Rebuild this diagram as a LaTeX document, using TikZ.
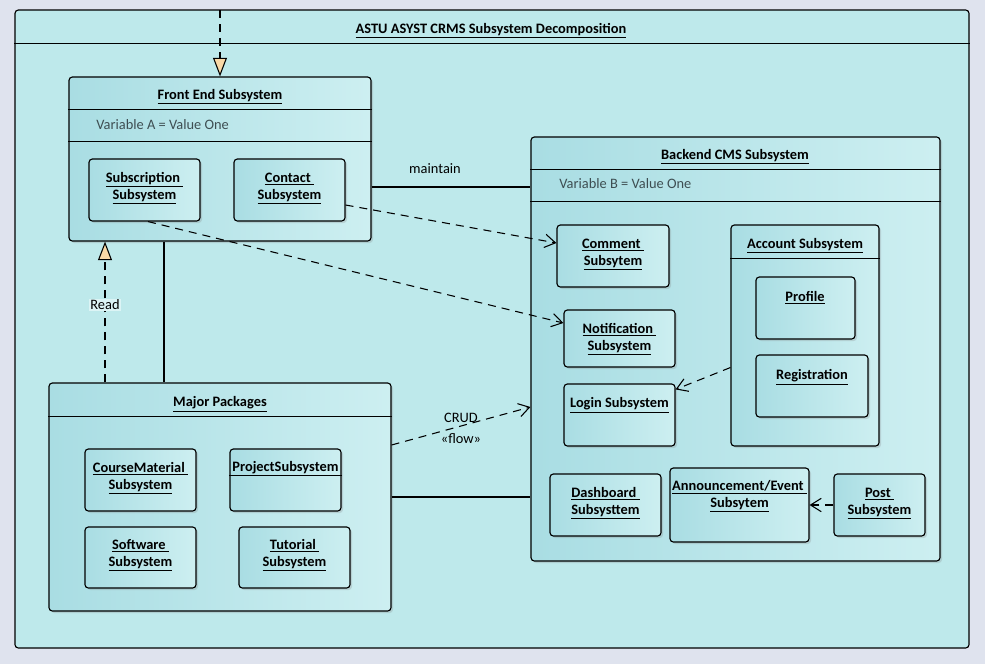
\documentclass[tikz,border=0pt]{standalone}
\usepackage{fontspec}
\setmainfont{Carlito}
\usetikzlibrary{arrows.meta,fit,shadows,calc}
\definecolor{bgout}{HTML}{DFE3EE}
\definecolor{frameC}{HTML}{BEE9EB}
\definecolor{boxL}{HTML}{A9DDE3}
\definecolor{boxR}{HTML}{CDEFF1}
\definecolor{triC}{HTML}{F9D8A6}
\definecolor{varC}{HTML}{3E4E52}
\tikzset{
  box/.style={draw=black, line width=0.85pt, rounded corners=2.5pt, left color=boxL, right color=boxR, inner sep=0pt,
    drop shadow={shadow xshift=1.5pt, shadow yshift=-1.5pt, opacity=0.25}},
  outerbox/.style={draw=black, line width=0.85pt, rounded corners=2.5pt, fill=frameC, inner sep=0pt},
  sep/.style={line width=0.85pt},
  ttl/.style={font=\bfseries\fontsize{10.8}{12.75}\selectfont, align=center, inner sep=0pt},
  vartxt/.style={font=\fontsize{10.8}{12}\selectfont, text=varC, inner sep=0pt, anchor=west},
  lbl/.style={font=\fontsize{10.8}{12}\selectfont, inner sep=1pt},
  conn/.style={line width=0.85pt},
  dep/.style={line width=0.8pt, dash pattern=on 6pt off 4.5pt, -{Straight Barb[length=8pt,width=10pt]}},
  real/.style={line width=0.8pt, dash pattern=on 6pt off 4.5pt, -{Triangle[length=14pt,width=10.5pt,fill=triC]}},
}
\newcommand\ubox[6][box]{\node[#1, fit={(#3,#4)(#5,#6)}] (#2) {};}
\begin{document}
\begin{tikzpicture}[x=0.75pt,y=-0.75pt]
\useasboundingbox[fill=bgout] (0,0) rectangle (985,664);
% outer frame
\ubox[outerbox]{frame}{15}{10}{969}{648}
\draw[sep] ($(frame.north west)+(0,34)$) -- ($(frame.north east)+(0,34)$);
\node[ttl] (frameT) at (491,31) {\underline{ASTU ASYST CRMS Subsystem Decomposition}};

% Front end
\ubox{fe}{69}{77}{371}{241}
\draw[sep] ($(fe.north west)+(0,33)$) -- ($(fe.north east)+(0,33)$);
\draw[sep] ($(fe.north west)+(0,65)$) -- ($(fe.north east)+(0,65)$);
\node[ttl] (feT) at (220,97) {\underline{Front End Subsystem}};
\node[vartxt] (feV) at (96,125) {Variable A = Value One};
\ubox{sb}{89}{159}{200}{221}
\node[ttl] (sbT) at (144.5,188.5) {\underline{Subscription\ }\\\underline{Subsystem}};
\ubox{ct}{234}{159}{345}{221}
\node[ttl] (ctT) at (289.5,188.5) {\underline{Contact\ }\\\underline{Subsystem}};

% Backend
\ubox{be}{531}{137}{940}{561}
\draw[sep] ($(be.north west)+(0,33)$) -- ($(be.north east)+(0,33)$);
\draw[sep] ($(be.north west)+(0,65)$) -- ($(be.north east)+(0,65)$);
\node[ttl] (beT) at (735,157) {\underline{Backend CMS Subsystem}};
\node[vartxt] (beV) at (559,184) {Variable B = Value One};
\ubox{cm}{557}{225}{669}{287}
\node[ttl] (cmT) at (613,254.5) {\underline{Comment\ }\\\underline{Subsytem}};
\ubox{ac}{731}{225}{879}{446}
\draw[sep] ($(ac.north west)+(0,34)$) -- ($(ac.north east)+(0,34)$);
\node[ttl] (acT) at (805,246) {\underline{Account Subsystem}};
\ubox{pf}{756}{277}{855}{339}
\node[ttl] (pfT) at (805,298) {\underline{Profile}};
\ubox{rg}{756}{355}{868}{417}
\node[ttl] (rgT) at (812,377) {\underline{Registration}};
\ubox{nt}{564}{310}{675}{367}
\node[ttl] (ntT) at (619.5,339.5) {\underline{Notification\ }\\\underline{Subsystem}};
\ubox{lg}{564}{384}{675}{446}
\node[ttl] (lgT) at (619.5,405) {\underline{Login Subsystem}};
\ubox{db}{550}{474}{661}{536}
\node[ttl] (dbT) at (605.5,503.5) {\underline{Dashboard\ }\\\underline{Subsysttem}};
\ubox{an}{670}{468}{809}{542}
\node[ttl] (anT) at (739.5,496.5) {\underline{Announcement/Event\ }\\\underline{Subsytem}};
\ubox{pt}{834}{474}{925}{536}
\node[ttl] (ptT) at (879.5,503.5) {\underline{Post\ }\\\underline{Subsystem}};

% Major packages
\ubox{mp}{49}{383}{391}{611}
\draw[sep] ($(mp.north west)+(0,34)$) -- ($(mp.north east)+(0,34)$);
\node[ttl] (mpT) at (220,404) {\underline{Major Packages}};
\ubox{cmat}{85}{449}{196}{511}
\node[ttl] (cmatT) at (140.5,478.5) {\underline{CourseMaterial\ }\\\underline{Subsystem}};
\ubox{pj}{230}{449}{341}{511}
\draw[sep] ($(pj.north west)+(0,27)$) -- ($(pj.north east)+(0,27)$);
\node[ttl] (pjT) at (285.5,468) {ProjectSubsystem};
\ubox{sw}{85}{527}{196}{588}
\node[ttl] (swT) at (140.5,555.5) {\underline{Software\ }\\\underline{Subsystem}};
\ubox{tu}{239}{527}{350}{588}
\node[ttl] (tuT) at (294.5,555.5) {\underline{Tutorial\ }\\\underline{Subsystem}};

% helper coordinates
\coordinate (topc) at (220,10);
\coordinate (xr) at (105,0);
\coordinate (xs) at (164,0);
\coordinate (ym) at (0,187);

% connectors
\draw[real] (topc) -- (fe.north -| topc);
\draw[real] (mp.north -| xr) -- node[pos=0.55, lbl, fill=boxR!70] (readL) {Read} (fe.south -| xr);
\draw[conn] (fe.south -| xs) -- (mp.north -| xs);
\draw[conn] (fe.east |- ym) -- (be.west |- ym);
\node[lbl] (maintL) at (435,169) {maintain};
\draw[dep] ($(ct.east)+(0,15)$) -- ($(cm.west)+(0,-13)$);
\draw[dep] ($(sb.south)+(3.5,0)$) -- ($(nt.west)+(0,-15.5)$);
\draw[dep] ($(ac.west)+(0,32)$) -- ($(lg.north east)+(0,6)$);
\draw[dep] ($(mp.east)+(0,-52)$) -- ($(be.west)+(0,58)$);
\node[lbl] (crudL) at (461,418) {CRUD};
\node[lbl] (flowL) at (461,439) {«flow»};
\draw[conn] (mp.east) -- (mp.east -| be.west);
\draw[dep] (pt.west) -- (pt.west -| an.east);
\end{tikzpicture}
\end{document}
